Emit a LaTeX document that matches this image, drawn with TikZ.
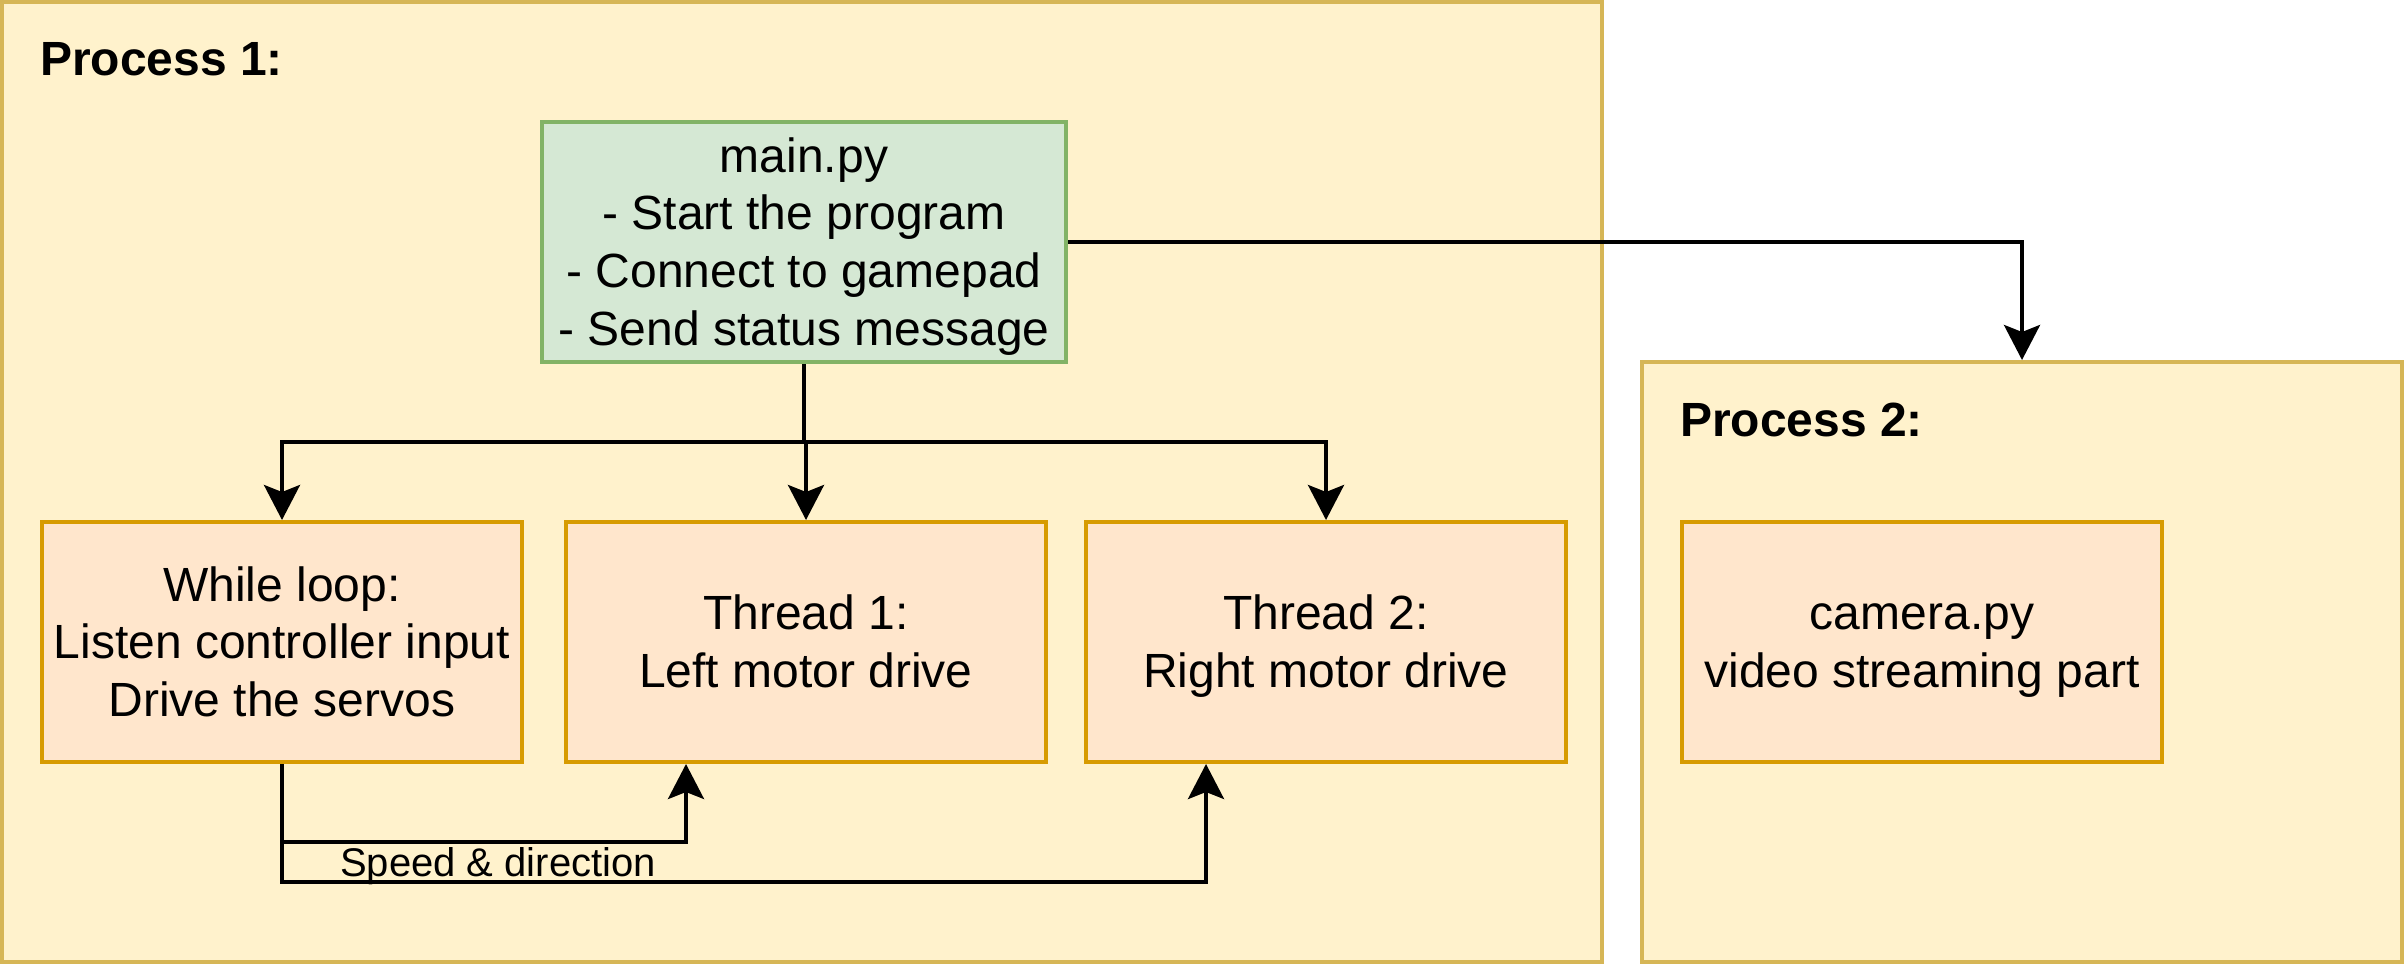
\documentclass[tikz,border=0pt]{standalone}
\usepackage{fontspec}
\setmainfont{Liberation Sans}
\usetikzlibrary{arrows.meta}
\definecolor{contfill}{HTML}{FFF2CC}
\definecolor{contdraw}{HTML}{D6B656}
\definecolor{mainfill}{HTML}{D5E8D4}
\definecolor{maindraw}{HTML}{82B366}
\definecolor{procfill}{HTML}{FFE6CC}
\definecolor{procdraw}{HTML}{D79B00}
\newcommand\lstrut{\rule[-12.2pt]{0pt}{57.6pt}}
\tikzset{
  container/.style={draw=contdraw, fill=contfill, line width=4pt, rectangle, inner sep=0pt},
  mainbox/.style={draw=maindraw, fill=mainfill, line width=4pt, rectangle, inner sep=0pt,
    minimum width=524pt, minimum height=240pt, align=center,
    font=\fontsize{48}{57.6}\selectfont},
  procbox/.style={draw=procdraw, fill=procfill, line width=4pt, rectangle, inner sep=0pt,
    minimum width=480pt, minimum height=240pt, align=center,
    font=\fontsize{48}{57.6}\selectfont},
  title/.style={anchor=base west, inner sep=0pt, font=\fontsize{48}{57.6}\selectfont\bfseries},
  lbl/.style={inner sep=0pt, font=\fontsize{40}{48}\selectfont},
  conn/.style={draw=black, line width=4pt, -{Stealth[length=35pt,width=36pt,inset=7pt]}},
  plain/.style={draw=black, line width=4pt}
}
\begin{document}
\begin{tikzpicture}[x=1pt,y=-1pt]
\useasboundingbox (0,0) rectangle (2408,968);
% containers
\node[container, minimum width=1600pt, minimum height=960pt] (p1) at (802,482) {};
\node[container, minimum width=760pt, minimum height=600pt] (p2) at (2022,662) {};
\node[title] (p1t) at (40,76) {Process 1:};
\node[title] (p2t) at (1680,436) {Process 2:};
% boxes
\node[mainbox] (main) at (804,242) {\lstrut main.py\\\lstrut - Start the program\\\lstrut - Connect to gamepad\\\lstrut - Send status message};
\node[procbox] (while) at (282,642) {\lstrut While loop:\\\lstrut Listen controller input\\\lstrut Drive the servos};
\node[procbox] (t1) at (806,642) {\lstrut Thread 1:\\\lstrut Left motor drive};
\node[procbox] (t2) at (1326,642) {\lstrut Thread 2:\\\lstrut Right motor drive};
\node[procbox] (cam) at (1922,642) {\lstrut camera.py\\\lstrut video streaming part};
% connectors
\coordinate (split) at (804,442);
\draw[plain] (main.south) -- (split);
\draw[conn] (split) -| (while.north);
\draw[conn] (split) -| (t1.north);
\draw[conn] (split) -| (t2.north);
\draw[conn] (main.east) -| (p2.north);
\coordinate (s1) at (686,842);
\coordinate (s2) at (1206,882);
\draw[conn] (while.south) |- (s1) -- (s1 |- t1.south);
\draw[conn] (while.south) |- (s2) -- (s2 |- t2.south);
\node[lbl] (speed) at (498,866) {Speed \& direction};
\end{tikzpicture}
\end{document}
